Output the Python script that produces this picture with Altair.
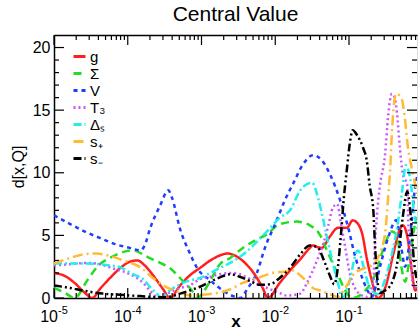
import altair as alt
import pandas as pd

# ---- data: (log10 x, d[x,Q]) ----
g = [(-5.0, 2.0), (-4.85, 1.75), (-4.72, 1.2), (-4.58, 0.4), (-4.48, 0.0), (-4.38, 0.7), (-4.24, 1.6),
     (-4.10, 2.4), (-3.97, 2.9), (-3.87, 3.0), (-3.77, 2.6), (-3.63, 1.6), (-3.52, 0.7), (-3.43, 0.0),
     (-3.29, 1.0), (-3.16, 1.8), (-3.02, 2.4), (-2.88, 3.0), (-2.75, 3.4), (-2.65, 3.55), (-2.55, 3.4),
     (-2.41, 2.8), (-2.27, 1.8), (-2.17, 0.8), (-2.10, 0.0), (-1.94, 1.2), (-1.80, 2.2), (-1.66, 3.1),
     (-1.53, 4.0), (-1.49, 4.2), (-1.42, 4.05), (-1.37, 4.0), (-1.26, 4.9), (-1.15, 5.6), (-1.03, 5.6),
     (-0.95, 6.2), (-0.89, 6.0), (-0.82, 5.1), (-0.76, 3.2), (-0.69, 1.4), (-0.61, 0.0), (-0.51, 0.8),
     (-0.40, 3.5), (-0.31, 5.5), (-0.27, 5.8), (-0.20, 4.6), (-0.15, 2.2), (-0.10, 0.6), (-0.06, 1.0)]
sigma = [(-5.0, 0.8), (-4.85, 0.4), (-4.72, 0.0), (-4.55, 1.4), (-4.38, 2.7), (-4.24, 3.2), (-4.10, 3.6),
         (-3.93, 3.8), (-3.74, 3.3), (-3.56, 2.8), (-3.43, 2.4), (-3.26, 1.4), (-3.13, 0.6), (-3.06, 0.0),
         (-2.95, 0.7), (-2.86, 1.6), (-2.75, 2.7), (-2.61, 3.2), (-2.44, 4.0), (-2.27, 4.6), (-2.11, 5.1),
         (-1.94, 5.9), (-1.71, 6.1), (-1.53, 5.8), (-1.39, 5.0), (-1.30, 3.8), (-1.16, 2.0), (-1.05, 0.6),
         (-0.96, 0.0), (-0.78, 0.6), (-0.65, 1.8), (-0.54, 3.8), (-0.42, 5.3), (-0.35, 5.0), (-0.29, 2.5),
         (-0.24, 1.3), (-0.17, 3.5), (-0.10, 6.0), (-0.06, 6.5)]
v = [(-5.0, 6.6), (-4.78, 5.9), (-4.58, 5.3), (-4.38, 4.8), (-4.17, 4.3), (-3.97, 4.0), (-3.83, 3.8),
     (-3.77, 4.2), (-3.70, 5.5), (-3.56, 7.4), (-3.45, 8.6), (-3.40, 8.0), (-3.29, 5.5), (-3.16, 3.6),
     (-3.06, 2.4), (-2.88, 1.4), (-2.71, 0.6), (-2.59, 0.2), (-2.48, 0.0), (-2.37, 0.8), (-2.25, 2.0),
     (-2.14, 4.0), (-1.98, 6.2), (-1.87, 7.8), (-1.76, 9.1), (-1.62, 10.7), (-1.49, 11.4), (-1.37, 11.0),
     (-1.26, 9.9), (-1.12, 7.8), (-1.01, 5.6), (-0.92, 3.4), (-0.82, 1.6), (-0.74, 0.5), (-0.69, 0.1),
     (-0.58, 2.5), (-0.47, 4.8), (-0.36, 6.2), (-0.29, 4.0), (-0.24, 2.5), (-0.17, 5.0), (-0.10, 9.0),
     (-0.06, 10.0)]
t3 = [(-5.0, 2.6), (-4.78, 2.7), (-4.55, 2.8), (-4.38, 2.7), (-4.17, 2.3), (-3.97, 1.9), (-3.79, 1.2),
      (-3.70, 0.6), (-3.60, 0.1), (-3.49, 0.3), (-3.29, 0.8), (-3.16, 1.0), (-3.02, 1.5), (-2.88, 1.7),
      (-2.75, 1.9), (-2.57, 2.0), (-2.44, 1.8), (-2.34, 1.5), (-2.25, 1.15), (-2.11, 0.8), (-1.98, 0.5),
      (-1.84, 0.2), (-1.66, 0.35), (-1.57, 1.2), (-1.49, 2.2), (-1.42, 3.2), (-1.35, 4.3), (-1.28, 5.8),
      (-1.22, 7.2), (-1.16, 7.5), (-1.11, 6.0), (-1.05, 4.0), (-0.99, 2.0), (-0.92, 0.8), (-0.85, 0.3),
      (-0.76, 0.1), (-0.67, 1.4), (-0.65, 4.0), (-0.62, 6.7), (-0.58, 9.0), (-0.51, 11.5), (-0.47, 14.5),
      (-0.42, 16.3), (-0.38, 16.0), (-0.35, 14.8), (-0.31, 12.0), (-0.27, 9.9), (-0.21, 9.0),
      (-0.20, 6.7), (-0.17, 4.0), (-0.13, 0.8), (-0.06, 1.0)]
delta_s = [(-5.0, 2.75), (-4.78, 2.75), (-4.58, 2.75), (-4.38, 2.7), (-4.24, 2.6), (-4.10, 2.45),
           (-3.93, 1.9), (-3.79, 1.5), (-3.70, 0.9), (-3.60, 0.3), (-3.55, 0.0), (-3.43, 0.6),
           (-3.29, 1.1), (-3.16, 1.4), (-3.02, 1.6), (-2.88, 2.0), (-2.75, 2.4), (-2.61, 2.8),
           (-2.41, 3.6), (-2.23, 4.6), (-2.10, 5.4), (-1.94, 6.4), (-1.80, 7.0), (-1.66, 8.6),
           (-1.57, 9.1), (-1.50, 9.2), (-1.42, 8.0), (-1.37, 6.8), (-1.30, 4.9), (-1.22, 2.8),
           (-1.15, 1.2), (-1.09, 0.0), (-1.01, 1.0), (-0.88, 3.8), (-0.78, 2.0), (-0.72, 0.8),
           (-0.61, 0.3), (-0.51, 1.5), (-0.42, 3.5), (-0.35, 5.5), (-0.28, 8.5), (-0.23, 10.6),
           (-0.17, 9.5), (-0.12, 7.0), (-0.06, 5.0)]
s_plus = [(-5.0, 2.75), (-4.78, 3.2), (-4.58, 3.5), (-4.42, 3.55), (-4.24, 3.35), (-4.06, 3.0),
          (-3.83, 2.45), (-3.66, 1.6), (-3.47, 0.85), (-3.29, 0.45), (-3.16, 0.2), (-3.02, 0.25),
          (-2.79, 0.4), (-2.61, 0.7), (-2.44, 1.2), (-2.21, 1.65), (-2.04, 2.0), (-1.89, 2.1),
          (-1.77, 2.2), (-1.66, 1.8), (-1.57, 1.3), (-1.49, 0.8), (-1.39, 0.6), (-1.26, 0.3),
          (-1.16, 0.1), (-1.05, 0.8), (-0.92, 2.0), (-0.78, 2.4), (-0.65, 2.8), (-0.58, 3.6),
          (-0.51, 5.2), (-0.47, 8.0), (-0.44, 10.5), (-0.42, 13.0), (-0.39, 15.5), (-0.36, 16.3),
          (-0.32, 16.2), (-0.28, 15.8), (-0.24, 14.2), (-0.20, 12.0), (-0.15, 10.4), (-0.10, 9.0),
          (-0.06, 8.0)]
s_minus = [(-5.0, 1.0), (-4.78, 0.8), (-4.61, 0.6), (-4.34, 0.35), (-4.10, 0.25), (-3.83, 0.15),
           (-3.56, 0.05), (-3.43, 0.1), (-3.29, 0.35), (-3.16, 0.6), (-3.02, 0.9), (-2.88, 1.3),
           (-2.75, 1.65), (-2.61, 1.9), (-2.48, 1.7), (-2.34, 1.35), (-2.21, 1.05), (-2.07, 1.1),
           (-1.94, 1.6), (-1.80, 2.4), (-1.66, 3.5), (-1.53, 4.2), (-1.42, 4.0), (-1.34, 3.0),
           (-1.26, 1.8), (-1.20, 1.1), (-1.15, 2.5), (-1.11, 5.0), (-1.07, 8.0), (-1.03, 10.2),
           (-0.99, 12.3), (-0.95, 13.4), (-0.89, 13.0), (-0.81, 12.0), (-0.76, 11.0), (-0.72, 9.0),
           (-0.67, 7.0), (-0.65, 4.5), (-0.62, 1.8), (-0.59, 0.4), (-0.51, 0.6), (-0.42, 1.2),
           (-0.34, 3.0), (-0.27, 6.5), (-0.21, 8.5), (-0.17, 7.0), (-0.12, 3.0), (-0.06, 1.0)]

NAMES = ["g", "Σ", "V", "T₃", "Δₛ", "s₊", "s₋"]
SERIES = [g, sigma, v, t3, delta_s, s_plus, s_minus]
COLORS = ["#ff1f1f", "#22dd22", "#1f3cff", "#cc55ff", "#22eeee", "#ffbb33", "#000000"]
DASHES = [[1, 0], [8, 5], [4, 4], [2, 3], [8, 3, 2, 3], [10, 4, 2, 4], [8, 3, 2, 3, 2, 3]]

X_MAJOR = [1e-5, 1e-4, 1e-3, 1e-2, 1e-1]
X_BASE = ["10", "10", "10", "10", "10"]
X_EXP = ["-5", "-4", "-3", "-2", "-1"]
Y_MAJOR = [0, 5, 10, 15, 20]

rows = []
for name, pts in zip(NAMES, SERIES):
    for lx, val in pts:
        rows.append({"series": name, "x": 10 ** lx, "d": val})
df = pd.DataFrame(rows)

W, H = 363, 263
XMAX = 10 ** (-5 + W / 73.75)
x_minor = [k * 10 ** n for n in range(-5, 0) for k in range(2, 10) if k * 10 ** n < XMAX]
y_minor = [i for i in range(1, 21) if i % 5 != 0]

FONT = "Liberation Sans"
xscale = alt.Scale(type="log", domain=[1e-5, XMAX], nice=False)
yscale = alt.Scale(domain=[0, 21], nice=False, zero=False)

legend = alt.Legend(title=None, orient="none", legendX=18, legendY=14, symbolType="stroke",
                    symbolSize=144, symbolStrokeWidth=3, labelFontSize=15, labelFont=FONT,
                    rowPadding=1, labelOffset=3, padding=0)

lines = alt.Chart(df).mark_line(strokeWidth=2.5, clip=True, interpolate="monotone").encode(
    x=alt.X("x:Q", scale=xscale,
            axis=alt.Axis(values=X_MAJOR, labels=False, ticks=False, grid=False,
                          domainColor="black", domainWidth=1.5, title="x", titleFont=FONT,
                          titleFontSize=17, titleFontWeight="bold", titleColor="black",
                          titlePadding=15)),
    y=alt.Y("d:Q", scale=yscale,
            axis=alt.Axis(values=Y_MAJOR, ticks=False, grid=False, domainColor="black",
                          domainWidth=1.5, labelFont=FONT, labelFontSize=16, labelColor="black",
                          labelPadding=4, title="d[x,Q]", titleFont=FONT, titleFontSize=16,
                          titleFontWeight="normal", titleColor="black", titlePadding=6)),
    color=alt.Color("series:N", scale=alt.Scale(domain=NAMES, range=COLORS), sort=NAMES, legend=legend),
    strokeDash=alt.StrokeDash("series:N", scale=alt.Scale(domain=NAMES, range=DASHES), sort=NAMES,
                              legend=legend),
)

labels_df = pd.DataFrame({"v": X_MAJOR, "base": X_BASE, "exp": X_EXP})
base_text = alt.Chart(labels_df).mark_text(font=FONT, fontSize=16, align="right", baseline="alphabetic",
                                           dx=4, color="black").encode(
    x=alt.X("v:Q", scale=xscale, axis=None), y=alt.value(H + 24), text="base:N")
exp_text = alt.Chart(labels_df).mark_text(font=FONT, fontSize=11, align="left", baseline="alphabetic",
                                          dx=4, color="black").encode(
    x=alt.X("v:Q", scale=xscale, axis=None), y=alt.value(H + 16), text="exp:N")


def xticks(vals, y0, y1, axis=None):
    return alt.Chart(pd.DataFrame({"v": vals})).mark_rule(color="black", strokeWidth=1.2).encode(
        x=alt.X("v:Q", scale=xscale, axis=axis), y=alt.value(y0), y2=alt.value(y1))


def yticks(vals, x0, x1):
    return alt.Chart(pd.DataFrame({"v": vals})).mark_rule(color="black", strokeWidth=1.2).encode(
        y=alt.Y("v:Q", scale=yscale, axis=None), x=alt.value(x0), x2=alt.value(x1))


top_axis = alt.Axis(orient="top", labels=False, ticks=False, grid=False, title=None,
                    domainColor="black", domainWidth=1.5)

layers = [
    lines,
    xticks(X_MAJOR, H, H - 10), xticks(x_minor, H, H - 5),
    xticks(X_MAJOR, 0, 10, axis=top_axis), xticks(x_minor, 0, 5),
    yticks(Y_MAJOR, 0, 10), yticks(y_minor, 0, 5),
    yticks(Y_MAJOR, W, W - 10), yticks(y_minor, W, W - 5),
    base_text, exp_text,
]

chart = alt.layer(*layers).resolve_axis(x="independent", y="independent").properties(
    width=W, height=H,
    title=alt.TitleParams("Central Value", font=FONT, fontSize=21, fontWeight="normal",
                          color="black", anchor="middle", offset=9),
    padding={"left": 54, "top": 35, "right": 1, "bottom": 31},
    autosize=alt.AutoSizeParams(type="none"),
).configure_view(stroke=None).configure(background="white")

chart.save("out.html", embed_options={"renderer": "svg", "actions": False})
